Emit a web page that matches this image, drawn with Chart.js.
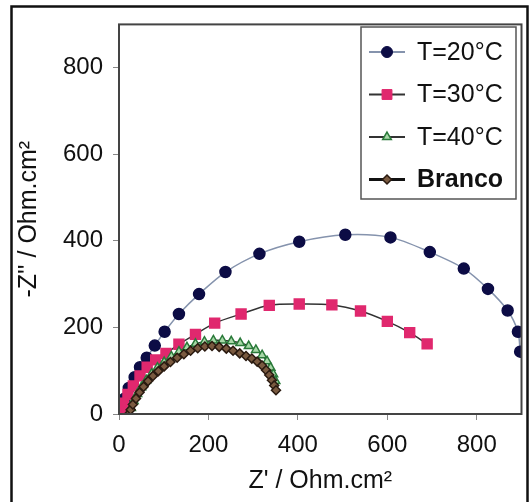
<!DOCTYPE html>
<html>
<head>
<meta charset="utf-8">
<script src="https://cdn.jsdelivr.net/npm/chart.js@4"></script>
<style>
  body { margin: 0; background: #fff; }
  #wrap { width: 530px; height: 502px; }
</style>
</head>
<body>
<div id="wrap"><canvas id="nyquist" width="530" height="502"></canvas></div>
<script>
// ---- data ----
const seriesNames = ['T=20°C', 'T=30°C', 'T=40°C', 'Branco'];

const t20X = [0, 4, 12, 22, 35, 47, 62, 80, 102, 134, 179, 238, 314, 403, 506, 607, 695, 771, 825, 869, 892, 897];
const t20Y = [0, 12, 35, 60, 85, 108, 130, 158, 190, 231, 277, 328, 370, 398, 414, 408, 374, 336, 289, 239, 190, 144];

const t30X = [0, 4, 10, 20, 32, 47, 63, 82, 105, 134, 171, 214, 273, 336, 403, 476, 540, 600, 650, 689];
const t30Y = [0, 10, 25, 45, 65, 88, 108, 125, 140, 161, 184, 210, 231, 251, 254, 252, 238, 214, 188, 162];

const t40X = [22, 27, 33, 41, 50, 61, 73, 86, 101, 117, 134, 152, 171, 191, 211, 231, 251, 271, 290, 306, 320, 331, 339, 345, 350];
const t40Y = [0, 14, 30, 46, 62, 78, 93, 107, 120, 133, 144, 154, 162, 167, 170, 170, 168, 164, 157, 148, 136, 122, 107, 92, 76];

const brancoX = [22, 26, 31, 38, 46, 55, 65, 76, 88, 101, 115, 130, 145, 160, 176, 192, 208, 224, 240, 255, 270, 284, 297, 309, 320, 329, 336, 342, 347, 351];
const brancoY = [0, 10, 22, 36, 50, 63, 76, 88, 99, 110, 120, 130, 138, 146, 152, 156, 157, 155, 151, 146, 140, 134, 128, 121, 112, 101, 90, 78, 66, 55];

const xTicks = [0, 200, 400, 600, 800];
const yTicks = [0, 200, 400, 600, 800];

// pair up x and y arrays into {x, y} points
function toPoints(xs, ys) {
    return xs.map((x, i) => ({ x: x, y: ys[i] }));
}

const textColour = '#111';
const fontFamily = '"Liberation Sans", Arial, sans-serif';

const datasets = [
    {
        label: seriesNames[0],
        data: toPoints(t20X, t20Y),
        borderColor: '#8593ad',
        borderWidth: 1.5,
        pointStyle: 'circle',
        pointRadius: 5.5,
        pointBackgroundColor: '#0c0c45',
        pointBorderColor: '#0c0c45',
        order: 3
    },
    {
        label: seriesNames[1],
        data: toPoints(t30X, t30Y),
        borderColor: '#333333',
        borderWidth: 1.5,
        pointStyle: 'rect',
        pointRadius: 7,
        pointBackgroundColor: '#e0286e',
        pointBorderColor: '#e0286e',
        order: 2
    },
    {
        label: seriesNames[2],
        data: toPoints(t40X, t40Y),
        borderColor: '#333333',
        borderWidth: 1.5,
        pointStyle: 'triangle',
        pointRadius: 5,
        pointBackgroundColor: '#a8d8a8',
        pointBorderColor: '#2a7a3a',
        pointBorderWidth: 1.5,
        order: 1
    },
    {
        label: seriesNames[3],
        data: toPoints(brancoX, brancoY),
        borderColor: '#111111',
        borderWidth: 2,
        pointStyle: 'rectRot',
        pointRadius: 4.5,
        pointBackgroundColor: '#7a5a40',
        pointBorderColor: '#2a1a10',
        pointBorderWidth: 1.5,
        order: 0
    }
];

// draws the outer frame, the plot box and the legend box
const framePlugin = {
    id: 'framePlugin',
    beforeDraw: (chart) => {
        const ctx = chart.ctx;
        ctx.save();
        ctx.fillStyle = '#fff';
        ctx.fillRect(0, 0, chart.width, chart.height);
        ctx.restore();
    },
    afterDraw: (chart) => {
        const ctx = chart.ctx;
        const area = chart.chartArea;
        ctx.save();

        // outer black frame
        ctx.strokeStyle = '#111';
        ctx.lineWidth = 2.5;
        ctx.strokeRect(11.5, 6.5, 516, 500);

        // plot box
        ctx.strokeStyle = '#444';
        ctx.lineWidth = 2;
        ctx.strokeRect(area.left, area.top, area.right - area.left, area.bottom - area.top);

        // legend box
        const boxLeft = 361, boxTop = 27, boxW = 155, boxH = 172;
        ctx.fillStyle = '#fff';
        ctx.fillRect(boxLeft, boxTop, boxW, boxH);
        ctx.strokeStyle = '#555';
        ctx.lineWidth = 1.5;
        ctx.strokeRect(boxLeft, boxTop, boxW, boxH);

        chart.data.datasets.forEach((ds, i) => {
            const y = 52 + i * 42.5;
            ctx.strokeStyle = ds.borderColor;
            ctx.lineWidth = i === 3 ? 3 : 2;
            ctx.beginPath();
            ctx.moveTo(369, y);
            ctx.lineTo(405, y);
            ctx.stroke();

            ctx.fillStyle = ds.pointBackgroundColor;
            ctx.strokeStyle = ds.pointBorderColor;
            ctx.lineWidth = ds.pointBorderWidth || 1;
            Chart.helpers.drawPoint(ctx, {
                pointStyle: ds.pointStyle,
                radius: ds.pointRadius,
                rotation: 0,
                borderWidth: ds.pointBorderWidth || 1
            }, 387, y);

            ctx.fillStyle = textColour;
            ctx.font = (i === 3 ? 'bold ' : '') + '25px ' + fontFamily;
            ctx.textAlign = 'left';
            ctx.textBaseline = 'middle';
            ctx.fillText(ds.label, 417, y + 1);
        });

        ctx.restore();
    }
};

const ctx = document.getElementById('nyquist').getContext('2d');
const chart = new Chart(ctx, {
    type: 'scatter',
    data: { datasets: datasets },
    options: {
        responsive: false,
        animation: false,
        showLine: true,
        layout: {
            padding: { left: 0, top: 18, right: 6, bottom: 0 }
        },
        elements: {
            line: { tension: 0.3 }
        },
        scales: {
            x: {
                type: 'linear',
                min: 0,
                max: 900,
                afterFit: (scale) => { scale.height = 88; },
                afterBuildTicks: (scale) => { scale.ticks = xTicks.map(v => ({ value: v })); },
                grid: { drawOnChartArea: false, tickLength: 6, tickColor: '#888' },
                border: { display: false },
                ticks: {
                    color: textColour,
                    padding: 11,
                    maxRotation: 0,
                    font: { family: fontFamily, size: 24 }
                },
                title: {
                    display: true,
                    text: "Z' / Ohm.cm²",
                    color: textColour,
                    padding: { top: 0, bottom: 6 },
                    font: { family: fontFamily, size: 25 }
                }
            },
            y: {
                type: 'linear',
                min: 0,
                max: 900,
                afterFit: (scale) => { scale.width = 119; },
                afterBuildTicks: (scale) => { scale.ticks = yTicks.map(v => ({ value: v })); },
                grid: { drawOnChartArea: false, tickLength: 6, tickColor: '#888' },
                border: { display: false },
                ticks: {
                    color: textColour,
                    padding: 10,
                    font: { family: fontFamily, size: 24 }
                },
                title: {
                    display: true,
                    text: "-Z'' / Ohm.cm²",
                    color: textColour,
                    padding: { top: 14, bottom: 0 },
                    font: { family: fontFamily, size: 25 }
                }
            }
        },
        plugins: {
            legend: { display: false },
            tooltip: { enabled: false }
        }
    },
    plugins: [framePlugin]
});
</script>
</body>
</html>
